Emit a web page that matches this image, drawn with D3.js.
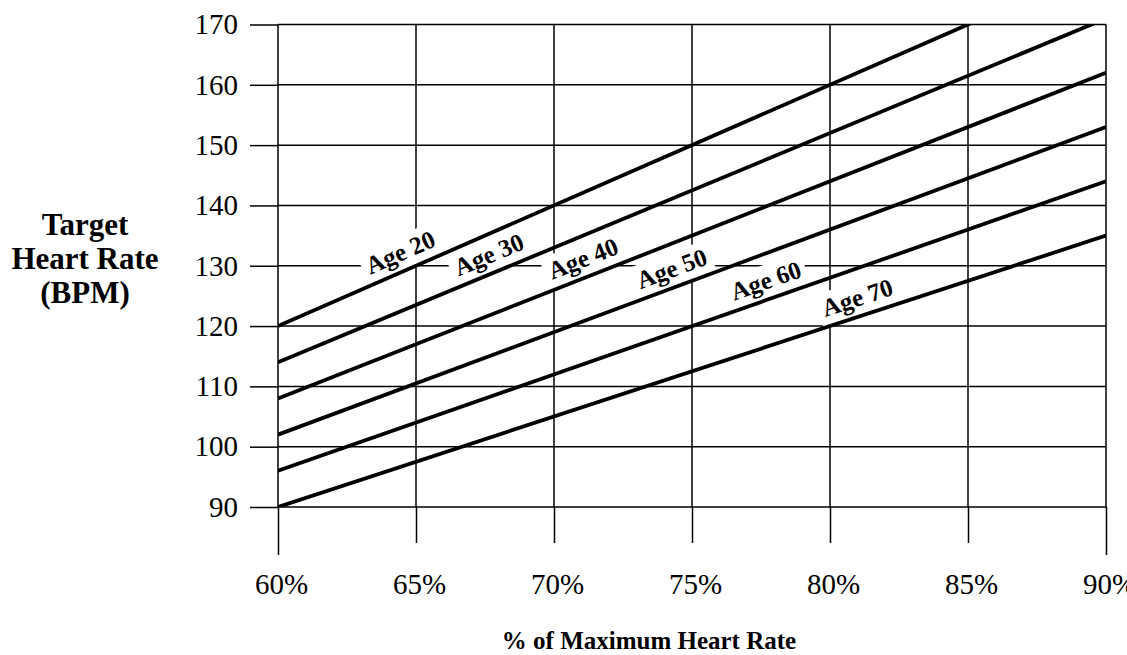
<!DOCTYPE html>
<html>
<head>
<meta charset="utf-8">
<script src="https://cdn.jsdelivr.net/npm/d3@7"></script>
<style>
  body { margin: 0; background: #fff; }
  svg { display: block; }
  svg text { font-family: "Liberation Serif", "Times New Roman", serif; }
</style>
</head>
<body>
<div id="chart"></div>
<script>
// values
const ages = [20, 30, 40, 50, 60, 70];
const pctStart = [60, 60, 60, 60, 60, 60];
const pctEnd = [90, 90, 90, 90, 90, 90];
const bpmStart = [120, 114, 108, 102, 96, 90];
const bpmEnd = [180, 171, 162, 153, 144, 135];
const labelPct = [64.7, 67.9, 71.3, 74.5, 77.9, 81.2];
const xTicks = [60, 65, 70, 75, 80, 85, 90];
const yTicks = [90, 100, 110, 120, 130, 140, 150, 160, 170];

const width = 1127, height = 655;

let svg = d3.select("#chart").append("svg")
    .attr("width", width)
    .attr("height", height);

let x = d3.scaleLinear().domain([60, 90]).range([278, 1106]);
let y = d3.scaleLinear().domain([90, 170]).range([507, 24.5]);

//clip for the heart rate lines
svg.append("clipPath").attr("id", "plotClip")
    .append("rect")
    .attr("x", x(60)).attr("y", y(170))
    .attr("width", x(90) - x(60)).attr("height", y(90) - y(170));

// horizontal grid + left stubs
let yAxis = d3.axisLeft(y).tickValues(yTicks).tickSize(28).tickPadding(12);
let yG = svg.append("g").attr("transform", `translate(${x(60)},0)`).call(yAxis)
    .attr("font-family", null);
yG.select(".domain").remove();
yG.selectAll("line").attr("stroke", "#000").attr("stroke-width", 1.5);
yG.selectAll("text").attr("font-size", 29).attr("fill", "#000");

svg.append("g").selectAll("line")
    .data(yTicks)
    .enter().append("line")
    .attr("x1", x(60)).attr("x2", x(90))
    .attr("y1", d => y(d)).attr("y2", d => y(d))
    .attr("stroke", "#000").attr("stroke-width", 1.5);

// vertical grid + bottom stubs
let xAxis = d3.axisBottom(x).tickValues(xTicks).tickSize(36).tickFormat(d => d + "%");
let xG = svg.append("g").attr("transform", `translate(0,${y(90)})`).call(xAxis)
    .attr("font-family", null);
xG.select(".domain").remove();
xG.selectAll("line")
    .attr("y2", (d, i) => (i == 0 || i == xTicks.length - 1) ? 48 : 36)
    .attr("stroke", "#000").attr("stroke-width", 1.5);
xG.selectAll("text")
    .attr("y", 87).attr("dy", null).attr("dx", 3)
    .attr("font-size", 29).attr("fill", "#000");

svg.append("g").selectAll("line")
    .data(xTicks)
    .enter().append("line")
    .attr("x1", d => x(d)).attr("x2", d => x(d))
    .attr("y1", y(170)).attr("y2", y(90))
    .attr("stroke", "#000").attr("stroke-width", 1.5);

// label backgrounds sit over the grid, under the lines
let bgLayer = svg.append("g");

let lineGen = d3.line().x(d => x(d[0])).y(d => y(d[1]));
let series = ages.map((a, i) => [[pctStart[i], bpmStart[i]], [pctEnd[i], bpmEnd[i]]]);

svg.append("g").attr("clip-path", "url(#plotClip)")
    .selectAll("path")
    .data(series)
    .enter().append("path")
    .attr("d", lineGen)
    .attr("fill", "none")
    .attr("stroke", "#000")
    .attr("stroke-width", 3.8);

let textLayer = svg.append("g");
ages.forEach((a, i) => {
    let p = labelPct[i];
    let v = bpmStart[i] + (bpmEnd[i] - bpmStart[i]) * (p - pctStart[i]) / (pctEnd[i] - pctStart[i]);
    let ang = Math.atan2(y(bpmEnd[i]) - y(bpmStart[i]), x(pctEnd[i]) - x(pctStart[i])) * 180 / Math.PI;
    let tr = `translate(${x(p)},${y(v)}) rotate(${ang})`;
    let t = textLayer.append("text")
        .attr("transform", tr)
        .attr("x", 0).attr("y", -10)
        .attr("text-anchor", "middle")
        .attr("font-size", 25)
        .attr("font-weight", "bold")
        .text("Age " + a);
    let bb = t.node().getBBox();
    bgLayer.append("rect")
        .attr("transform", tr)
        .attr("x", bb.x - 5).attr("y", bb.y - 2)
        .attr("width", bb.width + 10).attr("height", -bb.y + 2)
        .attr("fill", "#fff");
});

// axis titles
svg.append("text")
    .attr("x", 85).attr("y", 235)
    .attr("text-anchor", "middle")
    .attr("font-size", 31).attr("font-weight", "bold")
    .selectAll("tspan")
    .data(["Target", "Heart Rate", "(BPM)"])
    .enter().append("tspan")
    .attr("x", 85)
    .attr("dy", (d, i) => i == 0 ? 0 : 34)
    .text(d => d);

svg.append("text")
    .attr("x", 649).attr("y", 649)
    .attr("text-anchor", "middle")
    .attr("font-size", 25).attr("font-weight", "bold")
    .text("% of Maximum Heart Rate");
</script>
</body>
</html>
